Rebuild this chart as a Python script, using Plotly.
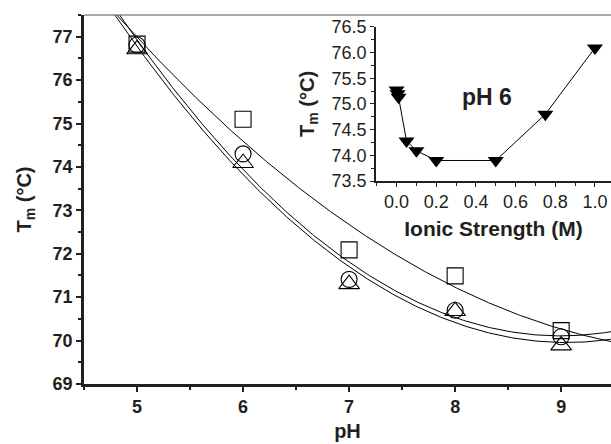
import numpy as np
import plotly.graph_objects as go

# ---- data ----
ph = [5, 6, 7, 8, 9]
tm_square = [76.83, 75.10, 72.09, 71.49, 70.23]
tm_circle = [76.81, 74.30, 71.41, 70.70, 70.09]
tm_triangle = [76.71, 74.09, 71.30, 70.68, 69.89]

ionic_strength = [0.0, 0.005, 0.01, 0.05, 0.1, 0.2, 0.5, 0.75, 1.0]
tm_ionic = [75.27, 75.20, 75.13, 74.28, 74.09, 73.90, 73.90, 74.80, 76.09]

main_xticks = [5, 6, 7, 8, 9]
main_yticks = [69, 70, 71, 72, 73, 74, 75, 76, 77]
inset_xticks = [0.0, 0.2, 0.4, 0.6, 0.8, 1.0]
inset_yticks = [73.5, 74.0, 74.5, 75.0, 75.5, 76.0, 76.5]

FONT = "Liberation Sans, Arial, Helvetica, sans-serif"
INK = "#231f20"

fig = go.Figure()

# quadratic fits of each pH series (as in the original figure)
x_fit = np.linspace(4.5, 9.5, 300)
series = [(tm_square, "square-open", 16), (tm_circle, "circle-open", 16), (tm_triangle, "triangle-up-open", 18)]
for y, sym, sz in series:
    coef = np.polyfit(ph, y, 2)
    fig.add_trace(go.Scatter(x=x_fit, y=np.polyval(coef, x_fit), mode="lines",
                             line=dict(color="black", width=1), showlegend=False,
                             xaxis="x", yaxis="y"))
for y, sym, sz in series:
    fig.add_trace(go.Scatter(x=ph, y=y, mode="markers",
                             marker=dict(symbol=sym, size=sz, color="black", line=dict(width=1.1, color="black")),
                             showlegend=False, xaxis="x", yaxis="y", cliponaxis=False))

# inset
fig.add_trace(go.Scatter(x=ionic_strength, y=tm_ionic, mode="lines+markers",
                         line=dict(color="black", width=1),
                         marker=dict(symbol="triangle-down", size=14, color="black"),
                         showlegend=False, xaxis="x2", yaxis="y2", cliponaxis=False))

axis_common = dict(showgrid=False, zeroline=False, ticks="outside", color=INK)

fig.update_layout(
    width=611, height=444,
    margin=dict(l=84, r=0, t=15, b=60),
    paper_bgcolor="white", plot_bgcolor="rgba(0,0,0,0)",
    font=dict(family=FONT, color=INK),
    xaxis=dict(**axis_common, range=[4.5, 9.47], domain=[0, 1], anchor="y",
               tickvals=main_xticks, ticklen=5, tickwidth=2,
               minor=dict(dtick=0.5, ticks="outside", ticklen=3, tickwidth=1.5),
               showline=True, linewidth=2.5, linecolor=INK,
               tickfont=dict(size=18, weight="bold"),
               title=dict(text="<b>pH</b>", font=dict(size=20), standoff=8)),
    yaxis=dict(**axis_common, range=[69, 77.5], domain=[0, 1], anchor="x",
               tickvals=main_yticks, ticklen=5, tickwidth=2,
               minor=dict(dtick=0.5, ticks="outside", ticklen=3, tickwidth=1.5),
               showline=True, linewidth=2.5, linecolor=INK,
               tickfont=dict(size=18, weight="bold"),
               title=dict(text="<b>T<sub>m</sub> (°C)</b>", font=dict(size=20), standoff=16)),
    xaxis2=dict(**axis_common, range=[-0.104, 1.081], domain=[0.554, 1.0], anchor="y2",
                tickvals=inset_xticks, tickformat=".1f", ticklen=4, tickwidth=1,
                minor=dict(dtick=0.1, ticks="outside", ticklen=3, tickwidth=1),
                showline=True, linewidth=1.5, linecolor=INK,
                tickfont=dict(size=18),
                title=dict(text="<b>Ionic Strength (M)</b>", font=dict(size=21), standoff=10)),
    yaxis2=dict(**axis_common, range=[73.5, 76.5], domain=[0.550, 0.968], anchor="x2",
                tickvals=inset_yticks, tickformat=".1f", ticklen=4, tickwidth=1,
                minor=dict(dtick=0.25, ticks="outside", ticklen=3, tickwidth=1),
                showline=True, linewidth=1.5, linecolor=INK,
                tickfont=dict(size=18),
                title=dict(text="<b>T<sub>m</sub> (°C)</b>", font=dict(size=20), standoff=12)),
    shapes=[dict(type="line", xref="paper", yref="paper", x0=0, x1=1, y0=1, y1=1,
                 line=dict(color="#555555", width=1))],
    annotations=[dict(text="<b>pH 6</b>", x=0.764, y=0.778, xref="paper", yref="paper",
                      showarrow=False, font=dict(size=23, color=INK), xanchor="center", yanchor="middle")],
)

fig.write_html("out.html")
